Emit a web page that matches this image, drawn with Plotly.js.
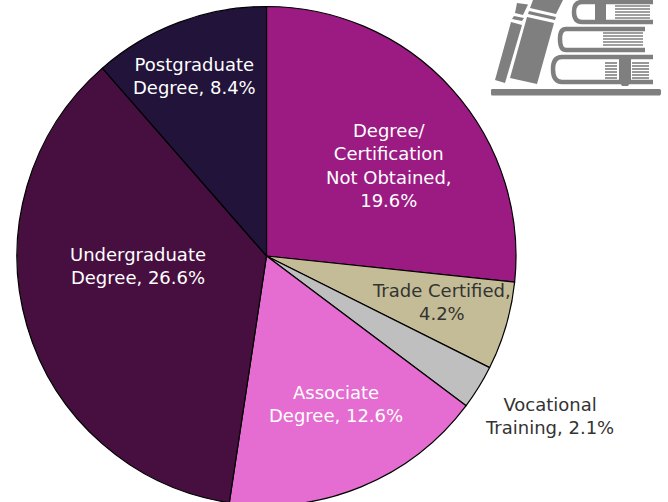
<!DOCTYPE html>
<html><head><meta charset="utf-8">
<script src="https://cdn.plot.ly/plotly-3.0.0.min.js"></script>
<style>html,body{margin:0;padding:0;background:#fff;overflow:hidden;width:668px;height:502px}</style>
</head><body><div id="chart"></div>
<script>
const categories = ["Degree/ Certification Not Obtained","Trade Certified","Vocational Training","Associate Degree","Undergraduate Degree","Postgraduate Degree"];
const values = [19.6,4.2,2.1,12.6,26.6,8.4];
const labelTexts = ["Degree/<br>Certification<br>Not Obtained,<br>19.6%","Trade Certified,<br>4.2%","Vocational<br>Training, 2.1%","Associate<br>Degree, 12.6%","Undergraduate<br>Degree, 26.6%","Postgraduate<br>Degree, 8.4%"];
const sliceColors = ["#9B1B83","#C4BC96","#BFBFBF","#E56CD0","#470F3F","#21133A"];
const labelColors = ["#fff","#333","#333","#fff","#fff","#fff"];
const labelPos = [[389,165],[441,302],[550,416],[336,404],[138,266],[194,76]];

const W=668,H=510;
const cx=266.5,cy=256,R=249.5;
const X=x=>+(x/W).toFixed(5), Y=y=>+(1-y/H).toFixed(5);
const poly=pts=>"M"+pts.map(p=>X(p[0])+","+Y(p[1])).join("L")+"Z";
const conv=d=>d.replace(/(-?[\d.]+),(-?[\d.]+)/g,(m,a,b)=>X(+a)+","+Y(+b));
const gray="#7F7F7F";
const fillShape=d=>({type:"path",xref:"paper",yref:"paper",path:d,fillcolor:gray,line:{width:0},layer:"above"});
const strokeShape=d=>({type:"path",xref:"paper",yref:"paper",path:conv(d),line:{color:gray,width:4.5},layer:"above"});
const lineRows=(x0,x1,ys,c)=>ys.map(y=>({type:"line",xref:"paper",yref:"paper",x0:X(x0),x1:X(x1),y0:Y(y),y1:Y(y),line:{color:c||gray,width:1.6},layer:"above"}));
const iconShapes=[
  fillShape(poly([[491.5,89],[660,89],[661,90.5],[661,94],[660,95.5],[491.5,95.5],[491,94],[491,90.5]])),
  fillShape(poly([[517,3],[528,4.5],[523,15],[515,13]])),
  fillShape(poly([[514,16],[524,18],[522,21],[512,19]])),
  fillShape(poly([[511,22],[522,25],[505,83],[495,80]])),
  fillShape(poly([[533,0],[563,0],[556,14],[530,8]])),
  fillShape(poly([[529,11],[556,17],[555,20],[528,14]])),
  fillShape(poly([[527,17],[554,23],[537,84],[510,78]])),
  strokeShape("M653,2L582,2Q574,2 574,12Q574,22 582,22L653,22"),
  strokeShape("M645,29L566,29Q560,29 560,39Q560,50 566,50L645,50"),
  strokeShape("M653,57L562,57Q553,57 553,69Q553,82 562,82L653,82"),
  fillShape(poly([[595,2],[606,2],[606,20],[603,24],[598,24],[595,20]])),
  fillShape(poly([[619,57],[631,57],[631,81],[628,86],[622,86],[619,81]])),
  ...lineRows(615,650,[6,9,12,15,18]),
  ...lineRows(603,643,[33,36,39,42,45]),
  ...lineRows(605,617,[63,66,69,72,75,78]),
  ...lineRows(632,649,[63,66,69,72,75,78])
];

const annotations=labelTexts.map((t,i)=>({text:t,x:X(labelPos[i][0]),y:Y(labelPos[i][1]),xref:"paper",yref:"paper",xanchor:"center",yanchor:"middle",align:"center",showarrow:false,font:{family:"'DejaVu Sans', sans-serif",size:18,color:labelColors[i]}}));

Plotly.newPlot("chart",[{type:"pie",labels:categories,values:values,sort:false,direction:"clockwise",rotation:0,textinfo:"none",hoverinfo:"label+percent",
  marker:{colors:sliceColors,line:{color:"#000",width:1.2}},
  domain:{x:[(cx-R)/W,(cx+R)/W],y:[1-(cy+R)/H,1-(cy-R)/H]}}],
  {width:W,height:H,margin:{l:0,r:0,t:0,b:0},paper_bgcolor:"#fff",showlegend:false,annotations:annotations,shapes:iconShapes},
  {displayModeBar:false,staticPlot:true});
</script></body></html>
